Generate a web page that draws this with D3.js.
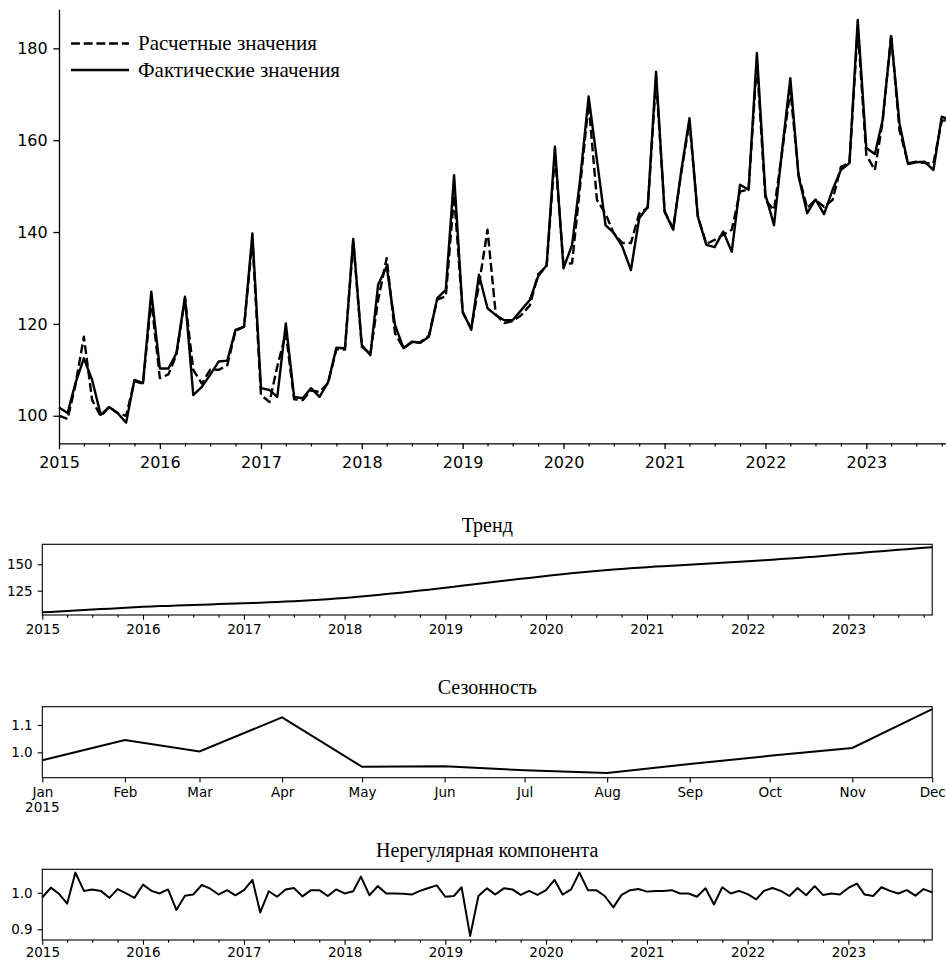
<!DOCTYPE html>
<html>
<head>
<meta charset="utf-8">
<script src="https://cdn.jsdelivr.net/npm/d3@7"></script>
<style>
  body { margin: 0; background: #fff; }
  svg { display: block; }
  .tick text { font-family: "DejaVu Sans", sans-serif; fill: #000; }
  .tick line, .domain { stroke: #000; }
</style>
</head>
<body>
<svg id="chart" width="946" height="960"></svg>
<script>
// Monthly series, January 2015 .. November 2023
const startMonth = new Date(2015, 0, 1);
const endMonth = new Date(2023, 10, 1);
const months = d3.timeMonth.range(startMonth, d3.timeMonth.offset(endMonth, 1));

// Actual values
const actualValues = [
  101.8, 100.6, 107.0, 112.5, 107.8, 100.2, 101.9, 100.6, 98.5, 107.8, 107.1, 127.0,
  110.3, 110.3, 113.6, 125.9, 104.5, 106.3, 108.9, 111.8, 112.0, 118.7, 119.4, 139.7,
  106.0, 105.6, 104.1, 120.1, 104.1, 103.8, 106.0, 104.1, 107.3, 114.8, 114.7, 138.5,
  115.4, 113.2, 128.5, 132.5, 119.8, 114.7, 116.1, 115.9, 117.2, 125.6, 127.4, 152.4,
  122.7, 118.7, 130.7, 123.4, 121.9, 120.8, 120.8, 123.0, 125.2, 130.3, 132.8, 158.6,
  132.1, 137.2, 151.4, 169.5, 155.7, 141.5, 139.8, 136.8, 131.7, 143.0, 145.5, 174.9,
  144.4, 140.5, 152.8, 164.8, 143.4, 137.2, 136.7, 140.1, 135.7, 150.3, 149.2, 179.0,
  148.1, 141.5, 157.2, 173.5, 152.1, 144.1, 147.1, 143.9, 149.2, 153.5, 155.0, 186.2,
  158.3, 157.0, 164.4, 182.5, 163.7, 154.8, 155.2, 155.3, 153.5, 165.1, 164.5
];

// Model (fitted) values
const fittedValues = [
  100.0, 99.3, 106.5, 117.2, 103.4, 99.9, 101.9, 100.6, 100.0, 107.5, 107.0, 125.2,
  108.2, 109.0, 113.3, 125.5, 110.0, 107.0, 110.0, 110.0, 111.0, 118.5, 119.4, 138.3,
  104.5, 103.0, 110.7, 118.0, 103.6, 103.4, 105.5, 105.2, 107.1, 114.5, 114.4, 138.0,
  115.0, 113.5, 125.2, 134.3, 118.0, 114.7, 116.0, 116.0, 117.5, 125.3, 126.0, 148.0,
  122.5, 119.0, 128.5, 140.5, 122.0, 120.2, 120.6, 121.9, 124.0, 130.8, 132.6, 157.0,
  133.0, 133.2, 150.0, 168.0, 147.0, 144.0, 139.7, 137.6, 137.6, 144.0, 145.3, 173.5,
  144.5, 140.8, 152.5, 164.0, 143.5, 137.4, 138.3, 139.4, 140.5, 148.8, 149.3, 177.0,
  147.0, 144.8, 156.8, 171.0, 152.4, 145.2, 147.0, 145.5, 147.0, 154.2, 155.0, 184.4,
  156.8, 153.5, 164.0, 183.0, 162.2, 155.0, 155.3, 155.0, 155.0, 164.2, 164.5
];

// Trend component
const trendValues = [
  104.5, 104.9, 105.4, 105.8, 106.3, 106.7, 107.1, 107.6, 108.0, 108.5, 108.9, 109.4,
  109.8, 110.1, 110.4, 110.6, 110.9, 111.2, 111.5, 111.8, 112.0, 112.3, 112.6, 112.9,
  113.2, 113.4, 113.7, 114.0, 114.3, 114.7, 115.1, 115.5, 116.0, 116.5, 117.0, 117.6,
  118.2, 118.8, 119.5, 120.2, 121.0, 121.8, 122.6, 123.4, 124.3, 125.1, 126.0, 126.9,
  127.8, 128.7, 129.7, 130.6, 131.5, 132.5, 133.4, 134.3, 135.3, 136.2, 137.1, 138.0,
  138.9, 139.8, 140.6, 141.4, 142.2, 142.9, 143.6, 144.3, 145.0, 145.6, 146.2, 146.8,
  147.3, 147.8, 148.2, 148.7, 149.1, 149.6, 150.0, 150.5, 150.9, 151.4, 151.9, 152.3,
  152.8, 153.3, 153.8, 154.3, 154.9, 155.5, 156.0, 156.6, 157.2, 157.9, 158.5, 159.2,
  159.9, 160.5, 161.2, 161.8, 162.4, 163.1, 163.7, 164.3, 164.9, 165.6, 166.2
];

// Seasonal indices, one per calendar month of 2015
const seasonalMonths = d3.timeMonth.range(new Date(2015, 0, 1), new Date(2016, 0, 1));
const seasonalValues = [0.971, 1.045, 1.003, 1.128, 0.947, 0.949, 0.934, 0.924, 0.957, 0.987, 1.016, 1.158];

// Irregular component
const irregularValues = [
  0.987, 1.014, 0.998, 0.970, 1.055, 1.005, 1.009, 1.005, 0.986, 1.010, 0.998, 0.986,
  1.022, 1.005, 0.998, 1.009, 0.953, 0.992, 0.995, 1.021, 1.011, 0.995, 1.007, 0.993,
  1.007, 1.035, 0.946, 1.004, 0.989, 1.009, 1.013, 0.990, 1.007, 1.007, 0.991, 1.009,
  0.998, 1.004, 1.044, 0.993, 1.018, 0.998, 0.998, 0.997, 0.995, 1.005, 1.013, 1.020,
  0.989, 0.991, 1.015, 0.882, 0.991, 1.012, 0.995, 1.012, 1.009, 0.994, 1.005, 0.994,
  1.007, 1.035, 0.995, 1.009, 1.055, 1.007, 1.007, 0.991, 0.960, 0.994, 1.007, 1.010,
  1.003, 1.005, 1.005, 1.007, 0.998, 0.998, 0.989, 1.012, 0.968, 1.015, 0.998, 1.005,
  0.996, 0.982, 1.005, 1.013, 1.005, 0.991, 1.013, 0.993, 1.018, 0.994, 0.998, 0.995,
  1.013, 1.025, 0.995, 0.991, 1.015, 1.005, 0.998, 1.007, 0.992, 1.010, 1.001
];

const legendLabels = ["Расчетные значения", "Фактические значения"];
const panelTitles = ["Тренд", "Сезонность", "Нерегулярная компонента"];
const mainYTicks = [100, 120, 140, 160, 180];
const trendYTicks = [125, 150];
const seasonalYTicks = [1.0, 1.1];
const irregularYTicks = [0.9, 1.0];
const seasonalYearLabel = "2015";

const svg = d3.select("#chart");
const serif = "'Liberation Serif', 'Times New Roman', serif";

function styleAxis(g, fontSize, width) {
  g.selectAll("text").style("font-size", fontSize + "px");
  g.selectAll("line").attr("stroke-width", width);
  g.select(".domain").attr("stroke-width", width);
}

// ---------- Main panel: actual vs fitted ----------
const main = { left: 59, right: 950.3, top: 9.3, bottom: 443.3 };
const xMain = d3.scaleTime().domain([startMonth, endMonth]).range([main.left, main.right]);
const yMain = d3.scaleLinear().domain([94, 188.5]).range([main.bottom, main.top]);

const gMain = svg.append("g");

// minor quarterly ticks
gMain.append("g")
  .attr("transform", `translate(0,${main.bottom})`)
  .call(d3.axisBottom(xMain)
    .tickValues(d3.timeMonth.range(startMonth, endMonth, 3).filter(d => d.getMonth() !== 0))
    .tickSize(3.2).tickFormat(() => "").tickSizeOuter(0))
  .call(g => { g.select(".domain").remove(); g.selectAll("line").attr("stroke-width", 1.2); });

gMain.append("g")
  .attr("transform", `translate(0,${main.bottom})`)
  .call(d3.axisBottom(xMain)
    .tickValues(d3.timeYear.range(startMonth, endMonth))
    .tickFormat(d3.timeFormat("%Y"))
    .tickSize(5.6).tickPadding(7.4).tickSizeOuter(0))
  .call(g => styleAxis(g, 16, 1.3));

gMain.append("g")
  .attr("transform", `translate(${main.left},0)`)
  .call(d3.axisLeft(yMain).tickValues(mainYTicks).tickFormat(d3.format("d"))
    .tickSize(5.6).tickPadding(5.7).tickSizeOuter(0))
  .call(g => styleAxis(g, 16, 1.3));

const lineMain = (vals) => d3.line()
  .x((d, i) => xMain(months[i]))
  .y(d => yMain(d))(vals);

gMain.append("path")
  .attr("d", lineMain(fittedValues))
  .attr("fill", "none").attr("stroke", "#000").attr("stroke-width", 2.4)
  .attr("stroke-dasharray", "8.9,3.8").attr("stroke-linejoin", "round");

gMain.append("path")
  .attr("d", lineMain(actualValues))
  .attr("fill", "none").attr("stroke", "#000").attr("stroke-width", 2.4)
  .attr("stroke-linejoin", "round");

// legend
const legend = gMain.append("g");
const legendRows = [
  { label: legendLabels[0], dash: "8.9,3.8", y: 43.5 },
  { label: legendLabels[1], dash: null, y: 70 }
];
legendRows.forEach(r => {
  legend.append("line")
    .attr("x1", 71).attr("x2", 129).attr("y1", r.y).attr("y2", r.y)
    .attr("stroke", "#000").attr("stroke-width", 2.4)
    .attr("stroke-dasharray", r.dash);
  legend.append("text")
    .attr("x", 138).attr("y", r.y + 6.8)
    .style("font-family", serif).style("font-size", "21px")
    .text(r.label);
});

// ---------- Component panels ----------
const panelLeft = 42.3, panelRight = 932.2;
const xPanel = d3.scaleTime().domain([startMonth, endMonth]).range([panelLeft, panelRight]);

function panelFrame(top, bottom, title) {
  const g = svg.append("g");
  g.append("text")
    .attr("x", (panelLeft + panelRight) / 2).attr("y", top - 12.5)
    .attr("text-anchor", "middle")
    .style("font-family", serif).style("font-size", "20px")
    .text(title);
  return g;
}

function drawBox(g, top, bottom) {
  g.append("rect")
    .attr("x", panelLeft).attr("y", top)
    .attr("width", panelRight - panelLeft).attr("height", bottom - top)
    .attr("fill", "none").attr("stroke", "#000").attr("stroke-width", 1.1);
}

function yearAxis(g, bottom, pad) {
  g.append("g")
    .attr("transform", `translate(0,${bottom})`)
    .call(d3.axisBottom(xPanel)
      .tickValues(d3.timeMonth.range(startMonth, endMonth, 3).filter(d => d.getMonth() !== 0))
      .tickSize(2.7).tickFormat(() => "").tickSizeOuter(0))
    .call(g2 => { g2.select(".domain").remove(); g2.selectAll("line").attr("stroke-width", 1.1); });
  g.append("g")
    .attr("transform", `translate(0,${bottom})`)
    .call(d3.axisBottom(xPanel)
      .tickValues(d3.timeYear.range(startMonth, endMonth))
      .tickFormat(d3.timeFormat("%Y"))
      .tickSize(4.7).tickPadding(pad).tickSizeOuter(0))
    .call(g2 => { styleAxis(g2, 13.5, 1.1); g2.select(".domain").remove(); });
}

function valueAxis(g, y, ticks, fmt) {
  g.append("g")
    .attr("transform", `translate(${panelLeft},0)`)
    .call(d3.axisLeft(y).tickValues(ticks).tickFormat(fmt)
      .tickSize(4.7).tickPadding(4.9).tickSizeOuter(0))
    .call(g2 => { styleAxis(g2, 13.5, 1.1); g2.select(".domain").remove(); });
}

// Trend
{
  const top = 544.3, bottom = 615;
  const g = panelFrame(top, bottom, panelTitles[0]);
  const y = d3.scaleLinear().domain([102, 168.9]).range([bottom, top]);
  g.append("path")
    .attr("d", d3.line().x((d, i) => xPanel(months[i])).y(d => y(d))(trendValues))
    .attr("fill", "none").attr("stroke", "#000").attr("stroke-width", 2);
  drawBox(g, top, bottom);
  yearAxis(g, bottom, 4.6);
  valueAxis(g, y, trendYTicks, d3.format("d"));
}

// Seasonality
{
  const top = 706.7, bottom = 777.7;
  const g = panelFrame(top, bottom, panelTitles[1]);
  const xs = d3.scaleTime()
    .domain([seasonalMonths[0], seasonalMonths[seasonalMonths.length - 1]])
    .range([panelLeft, panelRight]);
  const y = d3.scaleLinear().domain([0.907, 1.167]).range([bottom, top]);
  g.append("path")
    .attr("d", d3.line().x((d, i) => xs(seasonalMonths[i])).y(d => y(d))(seasonalValues))
    .attr("fill", "none").attr("stroke", "#000").attr("stroke-width", 2);
  drawBox(g, top, bottom);
  const ax = g.append("g")
    .attr("transform", `translate(0,${bottom})`)
    .call(d3.axisBottom(xs).tickValues(seasonalMonths)
      .tickFormat(d3.timeFormat("%b"))
      .tickSize(4.7).tickPadding(4.6).tickSizeOuter(0))
    .call(g2 => { styleAxis(g2, 13.5, 1.1); g2.select(".domain").remove(); });
  ax.append("text")
    .attr("x", xs(seasonalMonths[0])).attr("y", 4.7 + 4.6 + 15.6)
    .attr("dy", "0.71em").attr("text-anchor", "middle")
    .style("font-family", "'DejaVu Sans', sans-serif").style("font-size", "13.5px")
    .attr("fill", "#000")
    .text(seasonalYearLabel);
  valueAxis(g, y, seasonalYTicks, d3.format(".1f"));
}

// Irregular component
{
  const top = 869.3, bottom = 940;
  const g = panelFrame(top, bottom, panelTitles[2]);
  const y = d3.scaleLinear().domain([0.8708, 1.064]).range([bottom, top]);
  g.append("path")
    .attr("d", d3.line().x((d, i) => xPanel(months[i])).y(d => y(d))(irregularValues))
    .attr("fill", "none").attr("stroke", "#000").attr("stroke-width", 2)
    .attr("stroke-linejoin", "round");
  drawBox(g, top, bottom);
  yearAxis(g, bottom, 2.5);
  valueAxis(g, y, irregularYTicks, d3.format(".1f"));
}
</script>
</body>
</html>
